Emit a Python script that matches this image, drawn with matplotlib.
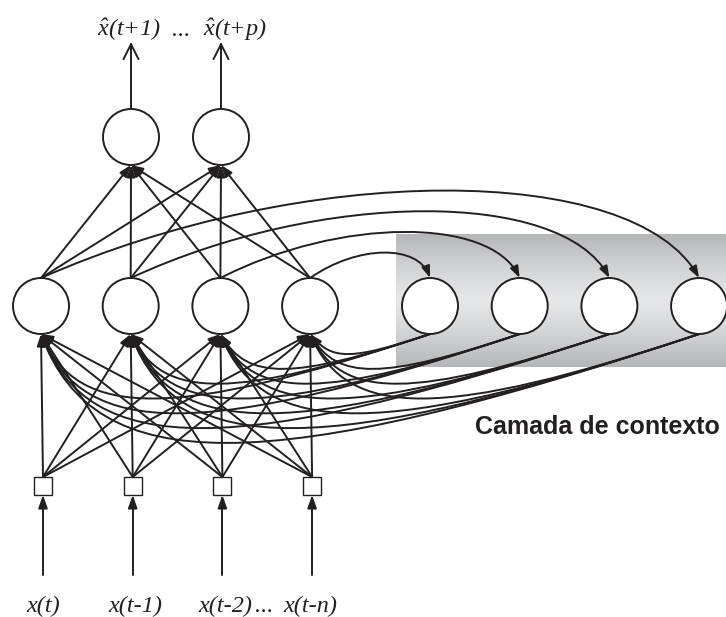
import numpy as np
import matplotlib
matplotlib.use("Agg")
import matplotlib.pyplot as plt
from matplotlib.patches import Circle, Rectangle, FancyArrowPatch
from matplotlib.path import Path

plt.rcParams['mathtext.fontset'] = 'custom'
plt.rcParams['mathtext.it'] = 'Liberation Serif:italic'
plt.rcParams['mathtext.rm'] = 'Liberation Serif:italic'

# ---- diagram content ----
n_inputs = 4
n_hidden = 4
n_context = 4
n_outputs = 2
input_labels = ["x(t)", "x(t-1)", "x(t-2)", "x(t-n)"]
output_labels = [r"$\hat{x}(t{+}1)$", r"$\hat{x}(t{+}p)$"]
context_title = "Camada de contexto"

# ---- layout (pixel coordinates) ----
W, H = 726, 617
fig = plt.figure(figsize=(W / 100, H / 100), dpi=100)
ax = fig.add_axes([0, 0, 1, 1])
ax.set_xlim(0, W)
ax.set_ylim(H, 0)
ax.axis('off')

R = 28
sq = 18
y_hid = 306
y_out = 137
y_sq = 486
x_hid = [41 + 89.7 * i for i in range(n_hidden)]
x_ctx = [430 + 89.7 * i for i in range(n_context)]
x_out = [131, 221]
x_in = [43 + 89.7 * i for i in range(n_inputs)]

lw = 1.4
col = '#231f20'

# gradient band
grad = np.abs(np.linspace(-1, 1, 200))
c_mid = np.array([0.898, 0.902, 0.910])
c_edge = np.array([0.710, 0.714, 0.722])
img = c_mid[None, :] * (1 - grad[:, None] ** 1.3) + c_edge[None, :] * grad[:, None] ** 1.3
img = np.repeat(img[:, None, :], 2, axis=1)
ax.imshow(img, extent=[396, 726, 367, 234], aspect='auto', zorder=0, interpolation='bilinear')


def arrow_path(verts, codes, style, ms=10, z=2):
    p = FancyArrowPatch(path=Path(verts, codes), arrowstyle=style,
                        mutation_scale=ms, lw=lw, color=col, zorder=z,
                        shrinkA=0, shrinkB=0)
    ax.add_patch(p)


filled = "-|>,head_length=0.7,head_width=0.25"
C4 = [Path.MOVETO, Path.CURVE4, Path.CURVE4, Path.CURVE4]

# context -> hidden curves
for xc in x_ctx:
    for xh in x_hid:
        dx = xc - xh
        h = 0.22 * dx
        verts = [(xc, y_hid + R), (xc - 0.66 * dx, y_hid + R + h),
                 (xh + 0.06 * dx + 15, y_hid + R + h), (xh, y_hid + R)]
        arrow_path(verts, C4, filled)

# input -> hidden lines
for xs in x_in:
    for xh in x_hid:
        arrow_path([(xs, y_sq - sq / 2), (xh, y_hid + R)], [Path.MOVETO, Path.LINETO], filled)

# hidden -> output lines
for xh in x_hid:
    for xo in x_out:
        arrow_path([(xh, y_hid - R), (xo, y_out + R)], [Path.MOVETO, Path.LINETO], filled)

# hidden -> context arcs
for i, xh in enumerate(x_hid):
    xc = x_ctx[n_context - 1 - i]
    dx = xc - xh
    c = 0.75 * dx * 0.205 + 15
    verts = [(xh, y_hid - R), (xh + 0.4 * dx, y_hid - R - c),
             (xc - 0.1 * dx, y_hid - R - c), (xc, y_hid - R)]
    arrow_path(verts, C4, filled)

# nodes
for x in x_hid:
    ax.add_patch(Circle((x, y_hid), R, fc='white', ec=col, lw=lw, zorder=5))
for x in x_ctx:
    ax.add_patch(Circle((x, y_hid), R, fc='white', ec=col, lw=lw, zorder=5))
for x in x_out:
    ax.add_patch(Circle((x, y_out), R, fc='white', ec=col, lw=lw, zorder=5))
for x in x_in:
    ax.add_patch(Rectangle((x - sq / 2, y_sq - sq / 2), sq, sq, fc='white', ec=col, lw=1.0, zorder=5))

# input arrows
for x in x_in:
    arrow_path([(x, 575), (x, y_sq + sq / 2)], [Path.MOVETO, Path.LINETO], filled, ms=11)

# output arrows (open heads)
for x in x_out:
    arrow_path([(x, y_out - R), (x, 42)], [Path.MOVETO, Path.LINETO],
               "->,head_length=0.9,head_width=0.45", ms=12)

# labels
serif_it = dict(family='Liberation Serif', style='italic', fontsize=17.5, color=col)
in_centers = [43, 135, 225, 310]
for lab, xc in zip(input_labels, in_centers):
    ax.text(xc, 612, lab, ha='center', va='baseline', **serif_it)
ax.text(264, 612, "...", ha='center', va='baseline', **serif_it)

ax.text(97, 36, output_labels[0], ha='left', va='baseline', fontsize=17.5, color=col)
ax.text(203, 36, output_labels[1], ha='left', va='baseline', fontsize=17.5, color=col)
ax.text(181, 36, "...", ha='center', va='baseline', **serif_it)

ax.text(720, 427, context_title, ha='right', va='center', family='Liberation Sans',
        weight='bold', fontsize=18, color=col)

fig.savefig("out.png", dpi=100)
